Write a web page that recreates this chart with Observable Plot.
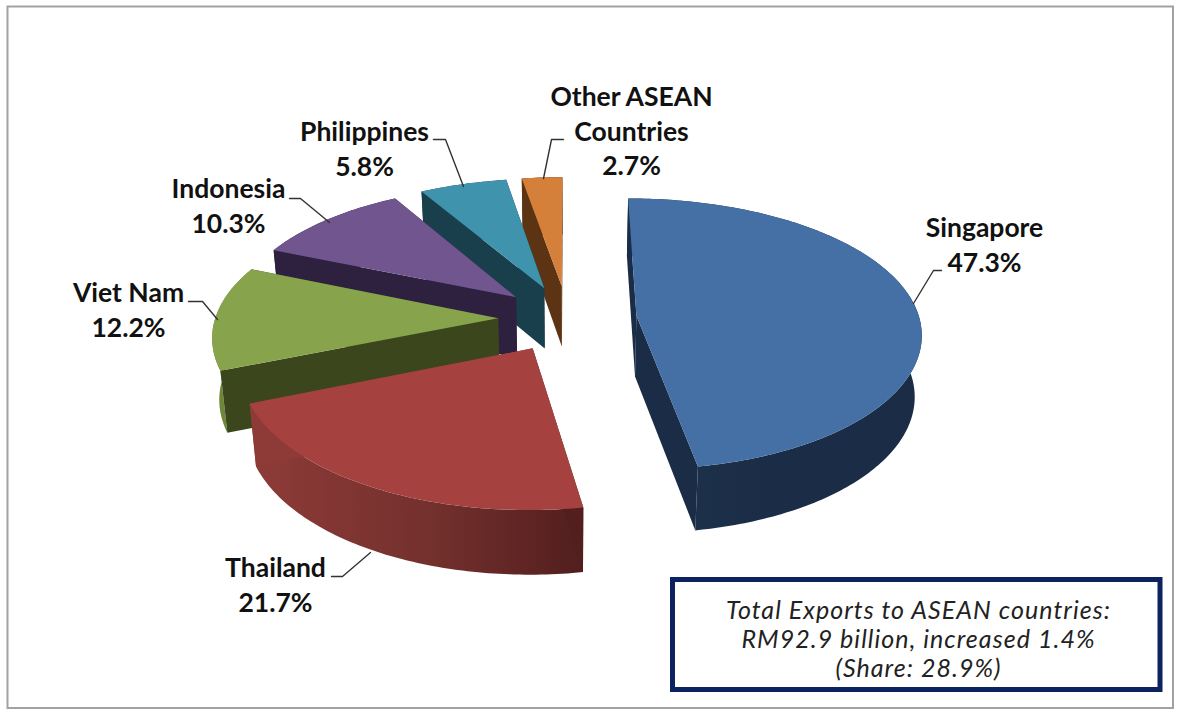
<!DOCTYPE html>
<html><head><meta charset="utf-8">
<style>html,body{margin:0;padding:0;background:#fff}svg{display:block}.note text{letter-spacing:1.05px}</style>
<script src="https://cdn.jsdelivr.net/npm/d3@7"></script>
<script src="https://cdn.jsdelivr.net/npm/@observablehq/plot@0.6"></script>
</head><body><div id="c"></div>
<script>
// Data
const countries = ["Singapore","Thailand","Viet Nam","Indonesia","Philippines","Other ASEAN\nCountries"];
const shares = [47.3,21.7,12.2,10.3,5.8,2.7];
const note = "Total Exports to ASEAN countries:\nRM92.9 billion, increased 1.4%\n(Share: 28.9%)";

// Styles
const topColors = ["#4470a6","#a54240","#87a34b","#71558f","#3f93ad","#d5803a"];
const startWall = ["#1a2c46","#521e1e","#3b461d","#2e2140","#1a3f4c","#5c3413"];
const endWall   = ["#1a2c46","#8e3b38","#3b461d","#2e2140","#1a3f4c","#5c3413"];
const arcStops = [
  [[0.25,"#1d3049"],[0.5,"#1a2c46"],[1,"#1a2c46"]],
  [[0,"#8e3b38"],[0.55,"#73302d"],[1,"#521e1e"]],
  [[0,"#6d8638"],[1,"#6d8638"]],
  [[0,"#2e2140"],[1,"#2e2140"]],
  [[0,"#1a3f4c"],[1,"#1a3f4c"]],
  [[0,"#5c3413"],[1,"#5c3413"]]
];

// Layout: label centres, leader paths, projection of the tilted disc
const labelAt = [[984,243],[275,583],[128,308],[228,204],[364,147],[631,129]];
const leaders = [
  [[913,303],[933,270],[941,270]],
  [[370,552],[342,576],[331,576]],
  [[217,319],[202,301],[188,301]],
  [[329,222],[300,198],[289,198]],
  [[463,186],[445,139],[433,139]],
  [[543,178],[551,139],[563,139]]
];
const P = {cx:567, cy:318, Rx:283, A:136, B:18, persp:0.12, explode:0.245, depth:61, depthP:3, baseScale:0.98};
const project = ([X,Z],h=0) => {
  const s = (1+P.persp*Z)*(h?P.baseScale:1);
  return [P.cx+P.Rx*X*s, P.cy+P.A*Z+P.B*Z*Z+h*(P.depth+P.depthP*Z)];
};

const total = d3.sum(shares);
let acc = 0;
const slices = shares.map((v,i)=>{
  const a0 = acc/total*2*Math.PI; acc += v;
  const a1 = acc/total*2*Math.PI;
  const mid = (a0+a1)/2;
  const o = [P.explode*Math.sin(mid), -P.explode*Math.cos(mid)];
  const at = a => [o[0]+Math.sin(a), o[1]-Math.cos(a)];
  return {i,a0,a1,o,at};
});

const polys = [];
let pid = 0;
const add = (pts,color) => { const id = pid++; pts.forEach(p=>polys.push({id,x:p[0],y:p[1],color})); };
// Painter's order: back slices first, Singapore last
[5,4,3,2,1,0].forEach(k=>{
  const s = slices[k];
  const n = Math.max(12,Math.round((s.a1-s.a0)*60));
  const arc = d3.range(n+1).map(j=>s.at(s.a0+(s.a1-s.a0)*j/n));
  const wall = (p,q,c) => add([project(p),project(q),project(q,1),project(p,1)],c);
  add([...arc.map(p=>project(p)),...arc.slice().reverse().map(p=>project(p,1))],`url(#arc${k})`);
  wall(s.o,s.at(s.a1),endWall[k]);
  wall(s.o,s.at(s.a0),startWall[k]);
  add([project(s.o),...arc.map(p=>project(p))],topColors[k]);
});

const gradients = () => {
  const defs = d3.create("svg:defs");
  arcStops.forEach((stops,k)=>{
    const g = defs.append("linearGradient").attr("id",`arc${k}`).attr("x1",0).attr("x2",1).attr("y1",0).attr("y2",0);
    stops.forEach(([o,c])=>g.append("stop").attr("offset",o).attr("stop-color",c));
  });
  return defs.node();
};

const leaderPts = leaders.flatMap((l,i)=>l.map(p=>({i,x:p[0],y:p[1]})));
const labels = countries.map((c,i)=>({text:`${c}\n${shares[i].toFixed(1)}%`,x:labelAt[i][0],y:labelAt[i][1]}));

const chart = Plot.plot({
  width:1180,height:720,margin:0,
  x:{axis:null,domain:[0,1180],range:[0,1180]},
  y:{axis:null,domain:[0,720],range:[0,720]},
  color:{type:"identity"},
  marks:[
    gradients,
    Plot.rect([{x1:7.5,y1:6.5,x2:1173,y2:708}],{x1:"x1",y1:"y1",x2:"x2",y2:"y2",fill:"#fff",stroke:"#a2a2a2",strokeWidth:2}),
    Plot.line(polys,{x:"x",y:"y",z:"id",fill:"color",stroke:"none",curve:"linear-closed"}),
    Plot.line(leaderPts,{x:"x",y:"y",z:"i",stroke:"#333",strokeWidth:1.4}),
    Plot.text(labels,{x:"x",y:"y",text:"text",fontFamily:"Lato",fontWeight:700,fontSize:26.5,lineHeight:1.3,fill:"#111",textAnchor:"middle",lineAnchor:"middle"}),
    Plot.rect([{x1:672.5,y1:579.5,x2:1160,y2:689.5}],{x1:"x1",y1:"y1",x2:"x2",y2:"y2",fill:"#fff",stroke:"#0d2360",strokeWidth:5}),
    Plot.text([{x:918,y:638,text:note}],{x:"x",y:"y",text:"text",className:"note",fontFamily:"Lato",fontStyle:"italic",fontSize:25,lineHeight:1.16,fill:"#222",textAnchor:"middle",lineAnchor:"middle"})
  ]
});
document.getElementById("c").append(chart);
</script></body></html>
